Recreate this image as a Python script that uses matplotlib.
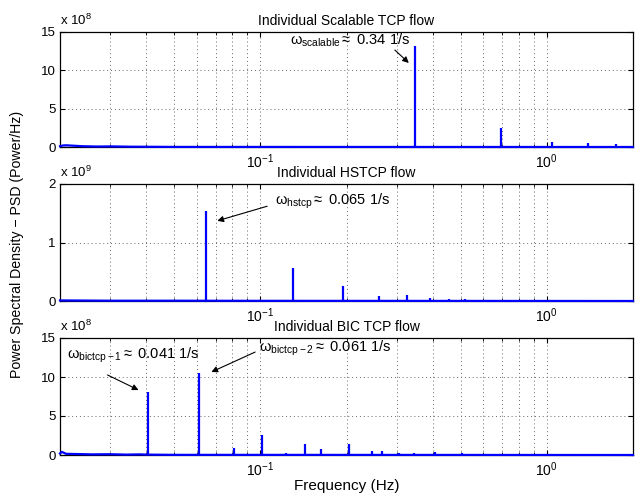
import matplotlib
matplotlib.use("Agg")
import matplotlib.pyplot as plt
from matplotlib.ticker import FuncFormatter, LogLocator, NullFormatter, FixedLocator
import numpy as np

plt.rcParams['font.family'] = ['Liberation Sans', 'DejaVu Sans']
plt.rcParams['mathtext.fontset'] = 'custom'
plt.rcParams['mathtext.rm'] = 'Liberation Sans'
plt.rcParams['mathtext.it'] = 'Liberation Sans:italic'
plt.rcParams['mathtext.sf'] = 'Liberation Sans'

# ---------------- data ----------------
# Scalable TCP
scal_spike_f = [0.347, 0.694, 1.04, 1.39, 1.74]
scal_spike_v = [13.2e8, 2.5e8, 0.65e8, 0.48e8, 0.4e8]
scal_base_f = [0.02, 0.0205, 0.021, 0.022, 0.024, 0.027, 0.03, 0.035, 0.04, 0.05, 2.0]
scal_base_v = [0.1e8, 0.2e8, 0.22e8, 0.18e8, 0.1e8, 0.06e8, 0.08e8, 0.04e8, 0.03e8, 0.01e8, 0.0]

# HSTCP
hs_spike_f = [0.0648, 0.130, 0.194, 0.26, 0.324, 0.39, 0.455, 0.52, 0.585, 0.65]
hs_spike_v = [1.53e9, 0.56e9, 0.25e9, 0.09e9, 0.1e9, 0.05e9, 0.04e9, 0.03e9, 0.015e9, 0.02e9]
hs_base_f = [0.02, 0.03, 0.05, 0.1, 2.0]
hs_base_v = [0.01e9, 0.005e9, 0.005e9, 0.003e9, 0.0]

# BIC TCP
bic_spike_f = [0.0407, 0.0611, 0.0812, 0.1017, 0.1227, 0.1433, 0.163, 0.184, 0.204,
               0.245, 0.265, 0.304, 0.345, 0.407, 0.45, 0.505]
bic_spike_v = [8.1e8, 10.5e8, 0.85e8, 2.55e8, 0.2e8, 1.45e8, 0.75e8, 0.15e8, 1.35e8,
               0.45e8, 0.45e8, 0.3e8, 0.2e8, 0.35e8, 0.15e8, 0.2e8]
bic_base_f = [0.02, 0.0203, 0.021, 0.023, 0.026, 0.03, 0.034, 0.038, 0.04, 0.05, 2.0]
bic_base_v = [0.2e8, 0.4e8, 0.15e8, 0.12e8, 0.08e8, 0.1e8, 0.05e8, 0.08e8, 0.05e8, 0.02e8, 0.0]

titles = ['Individual Scalable TCP flow', 'Individual HSTCP flow', 'Individual BIC TCP flow']
yticks_list = [[0, 5e8, 10e8, 15e8], [0, 1e9, 2e9], [0, 5e8, 10e8, 15e8]]
ylims = [(0, 15e8), (0, 2e9), (0, 15e8)]
scales = [1e8, 1e9, 1e8]
exps = ['8', '9', '8']
xlim = (0.02, 2.0)

W, H = 635, 493
fig = plt.figure(figsize=(W / 100, H / 100), dpi=100)

boxes = [(32, 147), (184, 301), (338, 455)]
axes = []
for (top, bot) in boxes:
    ax = fig.add_axes([60 / W, (H - bot) / H, 573 / W, (bot - top) / H])
    axes.append(ax)

series = [(scal_base_f, scal_base_v, scal_spike_f, scal_spike_v),
          (hs_base_f, hs_base_v, hs_spike_f, hs_spike_v),
          (bic_base_f, bic_base_v, bic_spike_f, bic_spike_v)]

gridstyle = dict(ls=(0, (1, 3)), color='0.4', lw=0.7)

for i, ax in enumerate(axes):
    bf, bv, sf, sv = series[i]
    ax.set_xscale('log')
    ax.set_xlim(*xlim)
    ax.set_ylim(*ylims[i])
    ax.plot(bf, bv, color='#0000ff', lw=1.6, zorder=3, clip_on=False)
    ax.vlines(sf, 0, sv, color='#0000ff', lw=1.6, zorder=3)
    ax.set_yticks(yticks_list[i])
    sc = scales[i]
    ax.yaxis.set_major_formatter(FuncFormatter(lambda v, p, sc=sc: f'{v / sc:g}'))
    ax.xaxis.set_major_locator(FixedLocator([0.1, 1.0]))
    ax.xaxis.set_minor_locator(LogLocator(base=10, subs=np.arange(2, 10), numticks=20))
    ax.xaxis.set_minor_formatter(NullFormatter())
    ax.tick_params(which='both', direction='in', top=True, right=True, color='k')
    ax.tick_params(which='major', length=3.5, width=0.8)
    ax.tick_params(which='minor', length=2, width=0.6)
    ax.tick_params(axis='y', labelsize=9.5, pad=3)
    ax.tick_params(axis='x', labelsize=10, pad=4)
    ax.grid(True, which='major', **gridstyle)
    ax.grid(True, which='minor', axis='x', **gridstyle)
    for s in ax.spines.values():
        s.set_linewidth(0.9)
    ax.set_title(titles[i], fontsize=10, pad=5)
    ax.text(0.0, 1.035, r'x 10$^{' + exps[i] + '}$', transform=ax.transAxes,
            fontsize=9.5, ha='left', va='bottom')

axes[2].set_xlabel('Frequency (Hz)', fontsize=11, labelpad=0)
fig.text(0.026, 0.505, 'Power Spectral Density \u2212 PSD (Power/Hz)', rotation=90,
         ha='center', va='center', fontsize=10.2)

arrow = dict(arrowstyle='-|>', color='k', lw=0.8, mutation_scale=9, shrinkA=0, shrinkB=0)
afs = 10.5

# annotations
axes[0].annotate('', xy=(0.330, 10.96e8), xytext=(0.295, 12.65e8), arrowprops=arrow)
axes[0].text(0.127, 13.3e8,
             r'$\mathregular{\omega}_{\mathregular{scalable}}$$\approx$ 0.34 1/s', fontsize=afs,
             ha='left', va='baseline')

axes[1].annotate('', xy=(0.0708, 1.37e9), xytext=(0.1057, 1.62e9), arrowprops=arrow)
axes[1].text(0.1127, 1.64e9, r'$\mathregular{\omega}_{\mathregular{hstcp}}$$\approx$ 0.065 1/s',
             fontsize=afs, ha='left', va='baseline')

axes[2].annotate('', xy=(0.0376, 8.33e8), xytext=(0.0293, 10.26e8), arrowprops=arrow)
axes[2].text(0.0212, 12.3e8, r'$\mathregular{\omega}_{\mathregular{bictcp-1}}$$\approx$ 0.041 1/s',
             fontsize=afs, ha='left', va='baseline')
axes[2].annotate('', xy=(0.0675, 10.64e8), xytext=(0.096, 13.2e8), arrowprops=arrow)
axes[2].text(0.099, 13.3e8, r'$\mathregular{\omega}_{\mathregular{bictcp-2}}$$\approx$ 0.061 1/s',
             fontsize=afs, ha='left', va='baseline')

fig.savefig('out.png', dpi=100)
